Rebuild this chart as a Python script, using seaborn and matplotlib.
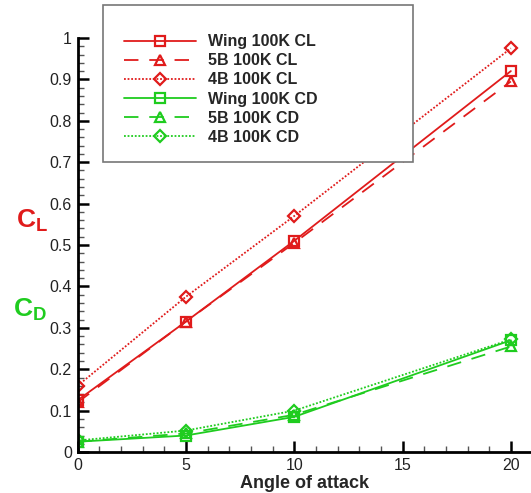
import matplotlib
matplotlib.use("Agg")
import matplotlib.pyplot as plt
from matplotlib.patches import Rectangle
from matplotlib.ticker import MultipleLocator
import seaborn as sns
import pandas as pd

sns.set_theme(style="white")
plt.rcParams['font.family'] = ['Liberation Sans', 'DejaVu Sans']
plt.rcParams['mathtext.fontset'] = 'custom'
plt.rcParams['mathtext.rm'] = 'Liberation Sans:bold'
plt.rcParams['mathtext.it'] = 'Liberation Sans:bold'
plt.rcParams['mathtext.bf'] = 'Liberation Sans:bold'

angles = [0, 5, 10, 20]
wing_cl = [0.125, 0.315, 0.510, 0.920]
b5_cl = [0.120, 0.315, 0.505, 0.895]
b4_cl = [0.160, 0.375, 0.570, 0.975]
wing_cd = [0.025, 0.040, 0.085, 0.270]
b5_cd = [0.025, 0.045, 0.090, 0.255]
b4_cd = [0.028, 0.052, 0.100, 0.272]
labels = ["Wing 100K CL", "5B 100K CL", "4B 100K CL",
          "Wing 100K CD", "5B 100K CD", "4B 100K CD"]
series = [wing_cl, b5_cl, b4_cl, wing_cd, b5_cd, b4_cd]

red = '#e01b1b'
green = '#1fcc1f'
colors = [red, red, red, green, green, green]
styles = ['-', (0, (8, 6)), (0, (1, 1)), '-', (0, (8, 6)), (0, (1, 1))]
markers = ['s', '^', 'D', 's', '^', 'D']
msizes = [7, 7.5, 6.5, 7, 7.5, 6.5]

df = pd.concat([pd.DataFrame({"angle": angles, "value": v, "series": l})
                for v, l in zip(series, labels)], ignore_index=True)

fig = plt.figure(figsize=(5.31, 4.93), dpi=100)
ax = fig.add_axes([0.146, 0.083, 0.854, 0.840])

handles = []
for l, c, ls, m, ms in zip(labels, colors, styles, markers, msizes):
    sub = df[df["series"] == l]
    sns.lineplot(data=sub, x="angle", y="value", ax=ax, color=c,
                 linestyle=ls, marker=m, markersize=ms, markerfacecolor='none',
                 markeredgecolor=c, markeredgewidth=1.6, linewidth=1.3,
                 label=l, legend=False)
    handles.append(ax.lines[-1])

ax.set_xlim(0, 20.93)
ax.set_ylim(0, 1)
ax.xaxis.set_major_locator(MultipleLocator(5))
ax.xaxis.set_minor_locator(MultipleLocator(1))
ax.yaxis.set_major_locator(MultipleLocator(0.1))
ax.yaxis.set_minor_locator(MultipleLocator(0.02))
ax.set_xticks([0, 5, 10, 15, 20])
ax.set_xticklabels(["0", "5", "10", "15", "20"])
ax.set_yticks([0, 0.1, 0.2, 0.3, 0.4, 0.5, 0.6, 0.7, 0.8, 0.9, 1.0])
ax.set_yticklabels(["0", "0.1", "0.2", "0.3", "0.4", "0.5", "0.6",
                    "0.7", "0.8", "0.9", "1"])
ax.tick_params(which='major', direction='in', length=8, width=1.8,
               color='black', labelsize=11.5, labelcolor='#222222', pad=4)
ax.tick_params(which='minor', direction='in', length=4, width=1.0,
               color='#555555')
ax.tick_params(axis='x', which='both', bottom=True)
ax.tick_params(axis='y', which='both', left=True)
for s in ['top', 'right']:
    ax.spines[s].set_visible(False)
for s in ['left', 'bottom']:
    ax.spines[s].set_color('black')
    ax.spines[s].set_linewidth(2)
ax.set_xlabel("Angle of attack", fontsize=13, fontweight='bold', labelpad=2)
ax.set_ylabel("")
ax.set_facecolor('white')

fig.text(0.030, 0.552, r"$\mathregular{C_L}$", color=red, fontsize=19,
         fontweight='bold', va='center', ha='left')
fig.text(0.024, 0.372, r"$\mathregular{C_D}$", color=green, fontsize=19,
         fontweight='bold', va='center', ha='left')

fig.patches.append(Rectangle((103 / 531, 1 - 162 / 493), 310 / 531, 157 / 493,
                             transform=fig.transFigure, fill=True,
                             facecolor='white', edgecolor='#777777',
                             linewidth=1.2, zorder=5))
leg = fig.legend(handles=handles, labels=labels, loc='upper left',
                 bbox_to_anchor=(113 / 531, 1 - 23 / 493), frameon=False,
                 prop={'weight': 'bold', 'size': 11.5}, handlelength=4.5,
                 handletextpad=0.75, labelspacing=0.26, borderpad=0.2)
leg.set_zorder(6)

fig.savefig("out.png", dpi=100, facecolor='white')
